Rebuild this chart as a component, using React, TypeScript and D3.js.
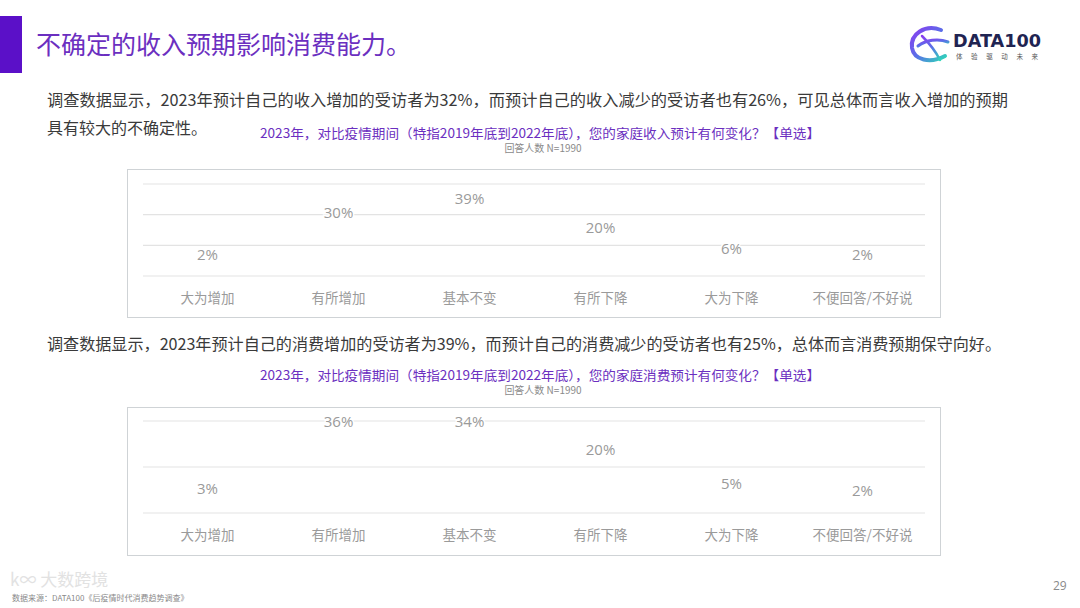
import React from "react";
import * as d3 from "d3";

const categories = ["大为增加", "有所增加", "基本不变", "有所下降", "大为下降", "不便回答/不好说"];
const incomeValues = [2, 30, 39, 20, 6, 2];
const spendValues = [3, 36, 34, 20, 5, 2];
const incomeTicks = [0, 20, 40, 60];
const spendTicks = [0, 20, 40];

const pageTitle = "不确定的收入预期影响消费能力。";
const para1a = "调查数据显示，2023年预计自己的收入增加的受访者为32%，而预计自己的收入减少的受访者也有26%，可见总体而言收入增加的预期";
const para1b = "具有较大的不确定性。";
const para2 = "调查数据显示，2023年预计自己的消费增加的受访者为39%，而预计自己的消费减少的受访者也有25%，总体而言消费预期保守向好。";
const chart1Title = "2023年，对比疫情期间（特指2019年底到2022年底），您的家庭收入预计有何变化？【单选】";
const chart2Title = "2023年，对比疫情期间（特指2019年底到2022年底），您的家庭消费预计有何变化？【单选】";
const sampleNote = "回答人数 N=1990";

const CJK = "'Noto Sans CJK SC', 'Noto Sans', sans-serif";
const PURPLE = "#6b2fc0";

type PanelProps = {
  values: number[];
  ticks: number[];
  boxTop: number;
  plotTop: number;
  plotBottom: number;
  title: string;
  titleY: number;
};

function Panel({ values, ticks, boxTop, plotTop, plotBottom, title, titleY }: PanelProps) {
  const x = d3.scaleBand<string>().domain(categories).range([142, 928]).padding(0);
  const y = d3.scaleLinear().domain([0, d3.max(ticks) as number]).range([plotBottom, plotTop]);
  return (
    <g>
      <text x={540} y={titleY} textAnchor="middle" fontFamily={CJK} fontSize={13} fill={PURPLE}
        textLength={560} lengthAdjust="spacingAndGlyphs">{title}</text>
      <text x={543} y={titleY + 14} textAnchor="middle" fontFamily={CJK} fontSize={10} fill="#8a8a8a">{sampleNote}</text>
      <rect x={127.5} y={boxTop + 0.5} width={813} height={148} fill="#fff" stroke="#cfd3d6" strokeWidth={1} />
      {ticks.map((t) => (
        <line key={t} x1={143} x2={925} y1={y(t)} y2={y(t)} stroke="#e3e3e3" strokeWidth={1.2} />
      ))}
      {values.map((v, i) => {
        const cx = (x(categories[i]) as number) + x.bandwidth() / 2;
        const by = Math.max(y(v) - 12.5, plotTop + 5.5);
        return (
          <text key={i} x={cx} y={by} textAnchor="middle" fontFamily="'Open Sans', 'Noto Sans', sans-serif"
            fontSize={15} fill="#9a9a9a" stroke="#fff" strokeWidth={3} paintOrder="stroke">{v}%</text>
        );
      })}
      {categories.map((c) => (
        <text key={c} x={(x(c) as number) + x.bandwidth() / 2} y={plotBottom + 27} textAnchor="middle"
          fontFamily={CJK} fontSize={13.5} fill="#9a9a9a">{c}</text>
      ))}
    </g>
  );
}

export default function App() {
  return (
    <svg width={1080} height={608} style={{ position: "fixed", left: 0, top: 0, background: "#fff" }}>
      <defs>
        <linearGradient id="logoGrad" x1="0" y1="0" x2="1" y2="1">
          <stop offset="0%" stopColor="#8a3cf0" />
          <stop offset="50%" stopColor="#5a6ee8" />
          <stop offset="100%" stopColor="#2fd6b8" />
        </linearGradient>
      </defs>
      <rect x={0} y={0} width={1080} height={608} fill="#fff" />
      <rect x={0} y={16} width={22} height={57} fill="#5b10c8" />
      <text x={36} y={54} fontFamily={CJK} fontSize={25} fill={PURPLE}>{pageTitle}</text>

      {/* logo */}
      <g>
        <path d="M941,30 C925,24 910,34 912,48 C914,60 930,64 945,56" fill="none" stroke="url(#logoGrad)" strokeWidth={4} strokeLinecap="round" />
        <path d="M918,46 C926,40 938,38 948,42" fill="none" stroke="url(#logoGrad)" strokeWidth={3} strokeLinecap="round" />
        <path d="M922,36 C930,44 936,52 940,60" fill="none" stroke="url(#logoGrad)" strokeWidth={2.5} strokeLinecap="round" />
        <text x={953} y={47} fontFamily="'DejaVu Sans', sans-serif" fontWeight="bold" fontSize={18} fill="#1f2452"
          textLength={88} lengthAdjust="spacingAndGlyphs">DATA100</text>
        <text x={956} y={59} fontFamily={CJK} fontSize={6.5} fill="#555" textLength={82} lengthAdjust="spacing">体验驱动未来</text>
      </g>

      <text x={47} y={106} fontFamily={CJK} fontSize={16} fill="#3a3a3a" textLength={961} lengthAdjust="spacingAndGlyphs">{para1a}</text>
      <text x={47} y={134} fontFamily={CJK} fontSize={16} fill="#3a3a3a">{para1b}</text>

      <Panel values={incomeValues} ticks={incomeTicks} boxTop={169} plotTop={184} plotBottom={276}
        title={chart1Title} titleY={138} />

      <text x={47} y={350} fontFamily={CJK} fontSize={16} fill="#3a3a3a" textLength={954} lengthAdjust="spacingAndGlyphs">{para2}</text>

      <Panel values={spendValues} ticks={spendTicks} boxTop={407} plotTop={421} plotBottom={513}
        title={chart2Title} titleY={380} />

      {/* footer */}
      <text x={10} y={586} fontFamily={CJK} fontSize={17} fill="#e2e2e2">k∞ 大数跨境</text>
      <text x={12} y={601} fontFamily={CJK} fontSize={8} fill="#8a8a8a">数据来源：DATA100《后疫情时代消费趋势调查》</text>
      <text x={1053} y={590} fontFamily="'Open Sans', sans-serif" fontSize={12} fill="#8a8a8a">29</text>
    </svg>
  );
}
